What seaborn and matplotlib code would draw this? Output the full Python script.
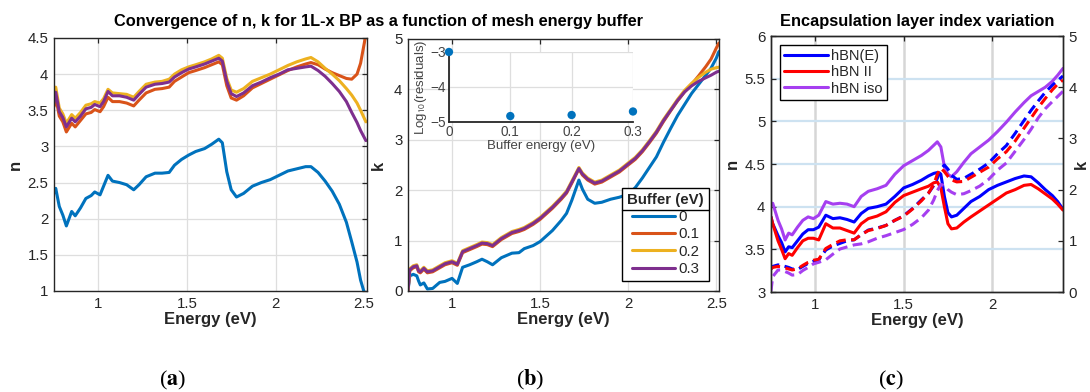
import numpy as np
import pandas as pd
import matplotlib
matplotlib.use("Agg")
import matplotlib.pyplot as plt
import seaborn as sns
from matplotlib.lines import Line2D
from matplotlib.ticker import FuncFormatter

sns.set_theme(style="white")
plt.rcParams['font.family'] = ['Liberation Sans', 'DejaVu Sans']
plt.rcParams['mathtext.fontset'] = 'stix'

##### DATA #####
buffers = ['0', '0.1', '0.2', '0.3']
# panel (a): n vs energy for each buffer
E_a = [0.75, 0.76, 0.78, 0.80, 0.82, 0.85, 0.87, 0.90, 0.93, 0.96, 0.98, 1.01, 1.03,
       1.055, 1.08, 1.12, 1.16, 1.20, 1.23, 1.27, 1.32, 1.36, 1.40, 1.43, 1.47, 1.51,
       1.55, 1.60, 1.64, 1.68, 1.70, 1.725, 1.75, 1.78, 1.82, 1.87, 1.92, 1.97, 2.02,
       2.07, 2.12, 2.17, 2.20, 2.24, 2.28, 2.32, 2.36, 2.40, 2.43, 2.46, 2.48, 2.51]
n_a_0 = [2.35, 2.42, 2.17, 2.05, 1.90, 2.10, 2.04, 2.15, 2.28, 2.32, 2.37, 2.33, 2.45,
         2.60, 2.52, 2.50, 2.47, 2.40, 2.47, 2.58, 2.63, 2.63, 2.64, 2.74, 2.82, 2.88,
         2.93, 2.97, 3.03, 3.10, 3.05, 2.65, 2.40, 2.30, 2.35, 2.45, 2.50, 2.54, 2.60,
         2.66, 2.69, 2.72, 2.72, 2.64, 2.52, 2.38, 2.20, 1.95, 1.68, 1.40, 1.15, 0.90]
n_a_1 = [3.55, 3.68, 3.42, 3.34, 3.20, 3.32, 3.27, 3.36, 3.45, 3.47, 3.51, 3.48, 3.55,
         3.68, 3.62, 3.62, 3.60, 3.56, 3.64, 3.74, 3.79, 3.80, 3.82, 3.90, 3.96, 4.02,
         4.05, 4.09, 4.13, 4.17, 4.13, 3.84, 3.67, 3.64, 3.70, 3.81, 3.87, 3.93, 3.99,
         4.05, 4.10, 4.14, 4.16, 4.13, 4.07, 4.02, 3.98, 3.94, 3.93, 4.00, 4.15, 4.55]
n_a_2 = [3.66, 3.82, 3.53, 3.45, 3.32, 3.44, 3.39, 3.47, 3.57, 3.59, 3.62, 3.60, 3.66,
         3.79, 3.74, 3.73, 3.72, 3.68, 3.76, 3.86, 3.89, 3.90, 3.93, 4.00, 4.06, 4.10,
         4.13, 4.17, 4.21, 4.26, 4.22, 3.94, 3.78, 3.75, 3.80, 3.90, 3.95, 4.00, 4.06,
         4.12, 4.17, 4.21, 4.23, 4.17, 4.08, 4.00, 3.91, 3.80, 3.71, 3.60, 3.50, 3.34]
n_a_3 = [3.60, 3.75, 3.48, 3.40, 3.27, 3.39, 3.34, 3.42, 3.52, 3.54, 3.58, 3.55, 3.62,
         3.76, 3.70, 3.70, 3.68, 3.64, 3.72, 3.82, 3.86, 3.87, 3.89, 3.96, 4.02, 4.07,
         4.10, 4.14, 4.18, 4.22, 4.18, 3.90, 3.73, 3.69, 3.74, 3.84, 3.89, 3.95, 4.00,
         4.06, 4.08, 4.10, 4.11, 4.05, 3.97, 3.87, 3.76, 3.62, 3.47, 3.33, 3.22, 3.08]

# panel (b): k vs energy for each buffer
E_b = [0.75, 0.76, 0.78, 0.80, 0.81, 0.82, 0.84, 0.86, 0.89, 0.93, 0.96, 1.00, 1.03,
       1.06, 1.10, 1.14, 1.17, 1.20, 1.23, 1.28, 1.34, 1.38, 1.41, 1.46, 1.50, 1.57,
       1.62, 1.65, 1.68, 1.72, 1.74, 1.77, 1.81, 1.85, 1.90, 1.95, 2.00, 2.04, 2.08,
       2.12, 2.16, 2.20, 2.24, 2.28, 2.32, 2.36, 2.40, 2.44, 2.47, 2.50, 2.515]
k_b_0 = [0.00, 0.30, 0.33, 0.30, 0.20, 0.12, 0.16, 0.04, 0.05, 0.17, 0.19, 0.25, 0.15,
         0.47, 0.52, 0.58, 0.63, 0.58, 0.52, 0.66, 0.75, 0.76, 0.84, 0.90, 0.98, 1.20,
         1.40, 1.54, 1.80, 2.20, 2.02, 1.82, 1.74, 1.76, 1.82, 1.86, 1.92, 2.05, 2.24,
         2.45, 2.66, 2.95, 3.22, 3.48, 3.70, 3.92, 4.10, 4.28, 4.42, 4.62, 4.75]
k_b_1 = [0.00, 0.40, 0.46, 0.48, 0.38, 0.36, 0.43, 0.36, 0.38, 0.46, 0.52, 0.56, 0.51,
         0.76, 0.82, 0.88, 0.93, 0.92, 0.88, 1.02, 1.14, 1.18, 1.22, 1.32, 1.42, 1.64,
         1.82, 1.94, 2.14, 2.42, 2.30, 2.20, 2.12, 2.16, 2.26, 2.36, 2.50, 2.61, 2.76,
         2.94, 3.13, 3.36, 3.57, 3.77, 3.95, 4.10, 4.27, 4.45, 4.60, 4.82, 4.92]
k_b_2 = [0.00, 0.44, 0.50, 0.52, 0.42, 0.40, 0.47, 0.40, 0.42, 0.50, 0.56, 0.60, 0.55,
         0.80, 0.86, 0.92, 0.97, 0.96, 0.92, 1.06, 1.18, 1.22, 1.26, 1.36, 1.46, 1.68,
         1.86, 1.98, 2.18, 2.45, 2.34, 2.24, 2.16, 2.20, 2.30, 2.40, 2.54, 2.65, 2.80,
         2.98, 3.17, 3.40, 3.60, 3.80, 3.98, 4.12, 4.24, 4.34, 4.40, 4.43, 4.44]
k_b_3 = [0.00, 0.42, 0.48, 0.50, 0.40, 0.38, 0.45, 0.38, 0.40, 0.48, 0.54, 0.58, 0.53,
         0.78, 0.84, 0.90, 0.95, 0.94, 0.90, 1.04, 1.16, 1.20, 1.24, 1.34, 1.44, 1.66,
         1.84, 1.96, 2.16, 2.43, 2.32, 2.22, 2.14, 2.18, 2.28, 2.38, 2.52, 2.63, 2.78,
         2.96, 3.15, 3.38, 3.58, 3.78, 3.95, 4.07, 4.16, 4.23, 4.28, 4.34, 4.36]

# inset: log10 residuals vs buffer energy
buffer_energy = [0.0, 0.1, 0.2, 0.3]
log_resid = [-3.0, -4.83, -4.80, -4.70]

# panel (c): encapsulation layers, n (solid) and k (dashed)
layers = ['hBN(E)', 'hBN II', 'hBN iso']
E_c = [0.75, 0.76, 0.79, 0.81, 0.83, 0.85, 0.87, 0.90, 0.93, 0.96, 0.99, 1.02, 1.06,
       1.10, 1.14, 1.18, 1.22, 1.26, 1.30, 1.35, 1.40, 1.45, 1.50, 1.55, 1.60, 1.64,
       1.67, 1.69, 1.71, 1.73, 1.75, 1.77, 1.80, 1.84, 1.88, 1.93, 1.98, 2.03, 2.08,
       2.13, 2.18, 2.22, 2.26, 2.30, 2.34, 2.37, 2.40]
n_c_E = [3.88, 3.80, 3.66, 3.58, 3.47, 3.53, 3.52, 3.60, 3.68, 3.73, 3.73, 3.76, 3.90,
         3.86, 3.87, 3.85, 3.82, 3.92, 3.98, 4.00, 4.03, 4.12, 4.22, 4.26, 4.31, 4.36,
         4.39, 4.40, 4.38, 4.12, 3.93, 3.88, 3.90, 3.98, 4.06, 4.12, 4.20, 4.25, 4.29,
         4.33, 4.36, 4.35, 4.28, 4.20, 4.13, 4.06, 3.97]
n_c_II = [3.88, 3.80, 3.60, 3.50, 3.39, 3.45, 3.43, 3.52, 3.60, 3.63, 3.63, 3.61, 3.80,
          3.75, 3.75, 3.72, 3.69, 3.80, 3.86, 3.89, 3.94, 4.05, 4.13, 4.17, 4.21, 4.24,
          4.28, 4.29, 4.22, 4.00, 3.80, 3.74, 3.75, 3.82, 3.88, 3.95, 4.02, 4.09, 4.16,
          4.20, 4.25, 4.26, 4.21, 4.15, 4.09, 4.03, 3.96]
n_c_iso = [4.02, 4.04, 3.84, 3.74, 3.61, 3.69, 3.67, 3.76, 3.84, 3.88, 3.86, 3.90, 4.06,
           4.03, 4.04, 4.03, 4.00, 4.12, 4.18, 4.21, 4.25, 4.38, 4.48, 4.54, 4.60, 4.66,
           4.72, 4.76, 4.70, 4.47, 4.38, 4.35, 4.41, 4.52, 4.62, 4.70, 4.78, 4.88, 4.99,
           5.11, 5.22, 5.30, 5.35, 5.40, 5.47, 5.54, 5.62]
k_c_E = [0.45, 0.50, 0.53, 0.52, 0.50, 0.48, 0.45, 0.44, 0.50, 0.56, 0.60, 0.63, 0.82,
         0.90, 0.95, 1.00, 1.02, 1.12, 1.21, 1.25, 1.30, 1.40, 1.49, 1.63, 1.80, 1.93,
         2.08, 2.22, 2.40, 2.48, 2.40, 2.28, 2.20, 2.22, 2.30, 2.40, 2.52, 2.70, 2.86,
         3.10, 3.35, 3.55, 3.73, 3.90, 4.04, 4.13, 4.22]
k_c_II = [0.45, 0.48, 0.50, 0.49, 0.47, 0.45, 0.43, 0.45, 0.52, 0.58, 0.62, 0.64, 0.85,
          0.93, 1.00, 1.02, 1.02, 1.12, 1.20, 1.24, 1.30, 1.40, 1.48, 1.62, 1.78, 1.93,
          2.10, 2.30, 2.42, 2.35, 2.26, 2.19, 2.15, 2.16, 2.24, 2.34, 2.44, 2.60, 2.74,
          2.95, 3.20, 3.40, 3.60, 3.78, 3.95, 4.06, 4.14]
k_c_iso = [0.02, 0.30, 0.43, 0.43, 0.40, 0.37, 0.33, 0.34, 0.42, 0.48, 0.55, 0.58, 0.63,
           0.74, 0.84, 0.88, 0.92, 0.94, 0.98, 1.05, 1.10, 1.16, 1.22, 1.32, 1.45, 1.60,
           1.80, 1.98, 2.10, 2.08, 2.00, 1.95, 1.90, 1.92, 1.98, 2.07, 2.20, 2.38, 2.52,
           2.75, 2.98, 3.18, 3.40, 3.58, 3.72, 3.82, 3.92]

##### TABLES #####
df_a = pd.concat([pd.DataFrame({'Energy': E_a, 'n': v, 'Buffer': b})
                  for b, v in zip(buffers, [n_a_0, n_a_1, n_a_2, n_a_3])])
df_b = pd.concat([pd.DataFrame({'Energy': E_b, 'k': v, 'Buffer': b})
                  for b, v in zip(buffers, [k_b_0, k_b_1, k_b_2, k_b_3])])
df_in = pd.DataFrame({'buffer': buffer_energy, 'logres': log_resid})
df_cn = pd.concat([pd.DataFrame({'Energy': E_c, 'n': v, 'layer': l})
                   for l, v in zip(layers, [n_c_E, n_c_II, n_c_iso])])
df_ck = pd.concat([pd.DataFrame({'Energy': E_c, 'k': v, 'layer': l})
                   for l, v in zip(layers, [k_c_E, k_c_II, k_c_iso])])

##### STYLE #####
mat = ['#0072BD', '#D95319', '#EDB120', '#7E2F8E']
enc = ['#0000FF', '#FF0000', '#A63FF0']
ink = '#262626'
lw = 2.2
tfs = 10.8   # tick labels
lfs = 12     # axis labels


def fmt(v, pos):
    return f"{v:g}".replace('-', '\u2212')


def matlab_axes(ax, fs=tfs):
    for s in ax.spines.values():
        s.set_color(ink)
        s.set_linewidth(1.0)
    ax.tick_params(direction='in', length=3.5, width=0.9, colors=ink,
                   labelsize=fs, pad=4)
    ax.xaxis.set_major_formatter(FuncFormatter(fmt))
    ax.yaxis.set_major_formatter(FuncFormatter(fmt))


fig = plt.figure(figsize=(10.9, 3.92), dpi=100)
ax_a = fig.add_axes([0.0495, 0.2577, 0.287, 0.6454])
ax_b = fig.add_axes([0.3743, 0.2577, 0.2853, 0.643])
ax_c = fig.add_axes([0.7073, 0.2551, 0.2679, 0.653])

##### (a) #####
sns.lineplot(data=df_a, x='Energy', y='n', hue='Buffer', palette=mat, lw=lw,
             estimator=None, legend=False, ax=ax_a)
ax_a.set_xlim(0.75, 2.515)
ax_a.set_ylim(1, 4.5)
ax_a.set_xticks([1, 1.5, 2, 2.5])
ax_a.set_yticks(np.arange(1, 4.51, 0.5))
ax_a.grid(True, color='#dedede', lw=0.9)
ax_a.tick_params(top=True, right=True)
matlab_axes(ax_a)
ax_a.set_xlabel('Energy (eV)', fontsize=lfs, fontweight='bold', color=ink, labelpad=1)
ax_a.set_ylabel('n', fontsize=lfs, fontweight='bold', color=ink, labelpad=3)

##### (b) #####
sns.lineplot(data=df_b, x='Energy', y='k', hue='Buffer', palette=mat, lw=lw,
             estimator=None, legend=False, ax=ax_b)
ax_b.set_xlim(0.75, 2.515)
ax_b.set_ylim(0, 5)
ax_b.set_xticks([1, 1.5, 2, 2.5])
ax_b.set_yticks(range(0, 6))
ax_b.grid(True, color='#dedede', lw=0.9)
ax_b.tick_params(top=True, right=True)
matlab_axes(ax_b)
ax_b.set_xlabel('Energy (eV)', fontsize=lfs, fontweight='bold', color=ink, labelpad=1)
ax_b.set_ylabel('k', fontsize=lfs, fontweight='bold', color=ink, labelpad=6)
handles = [Line2D([], [], color=c, lw=lw) for c in mat]
leg = ax_b.legend(handles, buffers, title='Buffer (eV)', loc='lower right',
                  fancybox=False, edgecolor='black', framealpha=1, fontsize=10.8,
                  title_fontproperties={'weight': 'bold', 'size': 10.8},
                  handlelength=2.9, handletextpad=0.25, labelspacing=0.22,
                  borderaxespad=0.65, borderpad=0.35)
leg.get_frame().set_linewidth(1.0)

# inset
ax_in = fig.add_axes([0.4119, 0.6888, 0.1688, 0.1786])
ax_in.set_facecolor('white')
sns.scatterplot(data=df_in, x='buffer', y='logres', color=mat[0], s=36,
                edgecolor='none', ax=ax_in, clip_on=False, zorder=5)
ax_in.set_xlim(0, 0.3)
ax_in.set_ylim(-5, -3)
ax_in.set_xticks([0, 0.1, 0.2, 0.3])
ax_in.set_yticks([-5, -4, -3])
ax_in.grid(True, color='#dedede', lw=0.9)
matlab_axes(ax_in, fs=9.8)
ax_in.spines['top'].set_visible(False)
ax_in.spines['right'].set_visible(False)
ax_in.spines['left'].set_linewidth(1.3)
ax_in.spines['bottom'].set_linewidth(1.3)
ax_in.tick_params(labelcolor='#444444', pad=2)
ax_in.set_xlabel('Buffer energy (eV)', fontsize=9.5, color='#444444', labelpad=1)
ax_in.set_ylabel(r'Log$_{\mathsf{10}}$(residuals)', fontsize=9.5, color='#444444', labelpad=1)

##### (c) #####
sns.lineplot(data=df_cn, x='Energy', y='n', hue='layer', palette=enc, lw=lw,
             estimator=None, legend=False, ax=ax_c)
ax_c.set_xlim(0.75, 2.4)
ax_c.set_ylim(3, 6)
ax_c.set_xticks([1, 1.5, 2])
ax_c.set_yticks(np.arange(3, 6.01, 0.5))
for xv in [1, 1.5, 2]:
    ax_c.axvline(xv, color='#d6d6d6', lw=1.8, zorder=0)
for yv in [3.5, 4, 4.5, 5, 5.5]:
    ax_c.axhline(yv, color='#cde2f1', lw=1.6, zorder=0)
ax_c.tick_params(top=True)
matlab_axes(ax_c)
ax_c.set_xlabel('Energy (eV)', fontsize=lfs, fontweight='bold', color=ink, labelpad=1)
ax_c.set_ylabel('n', fontsize=lfs, fontweight='bold', color=ink, labelpad=3)

ax_k = ax_c.twinx()
sns.lineplot(data=df_ck, x='Energy', y='k', hue='layer', palette=enc, lw=lw,
             estimator=None, legend=False, ax=ax_k, linestyle=(0, (3.2, 1.8)))
ax_k.set_ylim(0, 5)
ax_k.set_yticks(range(0, 6))
matlab_axes(ax_k)
ax_k.set_ylabel('k', fontsize=lfs, fontweight='bold', color=ink, rotation=90,
                va='center', ha='center')
ax_k.yaxis.set_label_coords(1.062, 0.5)
handles_c = [Line2D([], [], color=c, lw=lw) for c in enc]
leg_c = ax_k.legend(handles_c, layers, loc='upper left', fancybox=False,
                    edgecolor='black', framealpha=1, fontsize=10.5,
                    handlelength=3.0, handletextpad=0.25, labelspacing=0.15,
                    borderaxespad=0.6, borderpad=0.3)
leg_c.get_frame().set_linewidth(1.0)

##### TITLES AND PANEL LABELS #####
fig.text(0.347, 0.944, 'Convergence of n, k for 1L-x BP as a function of mesh energy buffer',
         ha='center', va='center', fontsize=11.8, fontweight='bold', color='black')
fig.text(0.841, 0.944, 'Encapsulation layer index variation',
         ha='center', va='center', fontsize=11.8, fontweight='bold', color='black')
for xl, lab in zip([0.158, 0.486, 0.817], ['a', 'b', 'c']):
    fig.text(xl, 0.03, '(' + r'$\mathbf{' + lab + '}$' + ')', ha='center', va='center',
             fontsize=16, family='Liberation Serif', color='black')

# separator line under the legend title, as in the MATLAB legend
fig.canvas.draw()
rend = fig.canvas.get_renderer()
fb = leg.get_frame().get_window_extent(rend)
tb = leg.get_title().get_window_extent(rend)
ysep = tb.y0 - 3
fig.add_artist(Line2D([fb.x0 / fig.bbox.width, fb.x1 / fig.bbox.width],
                      [ysep / fig.bbox.height, ysep / fig.bbox.height],
                      color='black', lw=1.0, zorder=10))

fig.savefig('out.png', dpi=100)
